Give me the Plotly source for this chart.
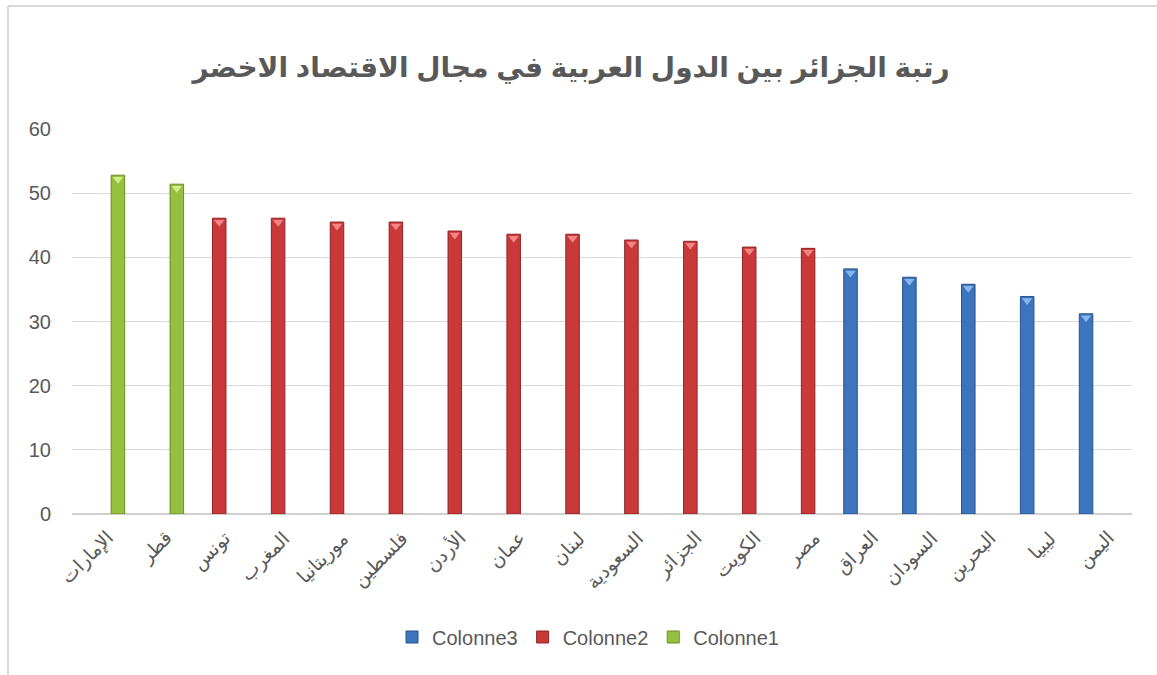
import plotly.graph_objects as go

# Countries, left to right, with their green-economy scores
countries = ["الإمارات", "قطر", "تونس", "المغرب", "موريتانيا", "فلسطين", "الأردن",
             "عمان", "لبنان", "السعودية", "الجزائر", "الكويت", "مصر",
             "العراق", "السودان", "البحرين", "ليبيا", "اليمن"]

colonne1 = [52.8, 51.4] + [None] * 16
colonne2 = [None, None, 46.1, 46.1, 45.5, 45.5, 44.1, 43.6, 43.6, 42.7, 42.5, 41.6, 41.4] + [None] * 5
colonne3 = [None] * 13 + [38.2, 36.9, 35.8, 33.9, 31.2]

y_ticks = [0, 10, 20, 30, 40, 50, 60]

title_text = "رتبة الجزائر بين الدول العربية في مجال الاقتصاد الاخضر"

# plot area in pixels (page is 1157 x 675)
W, H = 1157, 675
L, R, T, B = 72, 1132, 129, 514
Y_MAX = 60

BARGAP, GROUPGAP = 0.16, 0.18


def px_x(v):
    return (v - L) / (R - L)


def px_y(v):
    return (B - v) / (B - T)


grey = "#595959"

series = [
    ("Colonne3", colonne3, "#3c74bd", "#28538c", "#86b6ee"),
    ("Colonne2", colonne2, "#c9393a", "#8f2424", "#f48585"),
    ("Colonne1", colonne1, "#95bf3c", "#6a8c25", "#d2ec8a"),
]

fig = go.Figure()
for name, vals, fill, edge, _ in series:
    fig.add_trace(go.Bar(
        x=countries, y=vals, name=name, legendgroup=name,
        marker=dict(color=fill, line=dict(color=edge, width=1)),
    ))

# bevel highlight just under the top of each bar, on a numeric twin axis
slot = (1 - BARGAP) / len(series)
drop = 4 * Y_MAX / (B - T)  # 4 px expressed in axis units
for k, (name, vals, fill, edge, light) in enumerate(series):
    offset = (k - (len(series) - 1) / 2) * slot
    xs = [i + offset for i, v in enumerate(vals) if v is not None]
    ys = [v - drop for v in vals if v is not None]
    fig.add_trace(go.Scatter(
        x=xs, y=ys, xaxis="x2", mode="markers", legendgroup=name,
        showlegend=False, hoverinfo="skip",
        marker=dict(symbol="triangle-down", size=9, color=light,
                    line=dict(width=0)),
    ))

# slanted category labels, their upper end placed just right of each slot centre
for i, name in enumerate(countries):
    fig.add_annotation(
        x=i, y=0, xref="x2", yref="y", text=name, showarrow=False,
        textangle=-45, xanchor="right", yanchor="top", xshift=19, yshift=-10,
        font=dict(family="DejaVu Sans", size=19, color=grey),
    )

x_range = [-0.5, len(countries) - 0.5]
fig.update_layout(
    width=W, height=H,
    margin=dict(l=L, r=W - R, t=T, b=H - B),
    paper_bgcolor="white", plot_bgcolor="white",
    barmode="group", bargap=BARGAP, bargroupgap=GROUPGAP,
    title=dict(text=title_text, x=571 / W,
               xanchor="center", y=1 - 67 / H, yanchor="middle",
               font=dict(family="Liberation Sans, DejaVu Sans", size=28,
                         color=grey, weight="bold")),
    font=dict(family="Liberation Sans, DejaVu Sans", color=grey),
    legend=dict(orientation="h", x=px_x(588), xanchor="center",
                y=px_y(637), yanchor="middle",
                font=dict(size=20, color=grey), traceorder="normal",
                itemwidth=30),
    showlegend=True,
    xaxis=dict(type="category", range=x_range, showgrid=False, showline=False,
               ticks="", showticklabels=False),
    xaxis2=dict(overlaying="x", range=x_range, visible=False, fixedrange=True),
)
fig.update_yaxes(
    range=[0, Y_MAX], tickvals=y_ticks, showgrid=True, gridcolor="#d9d9d9",
    gridwidth=1, zeroline=True, zerolinecolor="#d0d0d0", zerolinewidth=1.5,
    showline=False, ticks="", ticklabelstandoff=20,
    tickfont=dict(size=20, color=grey),
)

# light frame along the top and left edges of the chart area
fig.add_shape(type="line", xref="paper", yref="paper",
              x0=px_x(8), x1=px_x(W), y0=px_y(6), y1=px_y(6),
              line=dict(color="#d9d9d9", width=2))
fig.add_shape(type="line", xref="paper", yref="paper",
              x0=px_x(8), x1=px_x(8), y0=px_y(6), y1=px_y(H),
              line=dict(color="#d9d9d9", width=2))

fig.write_html("out.html")
